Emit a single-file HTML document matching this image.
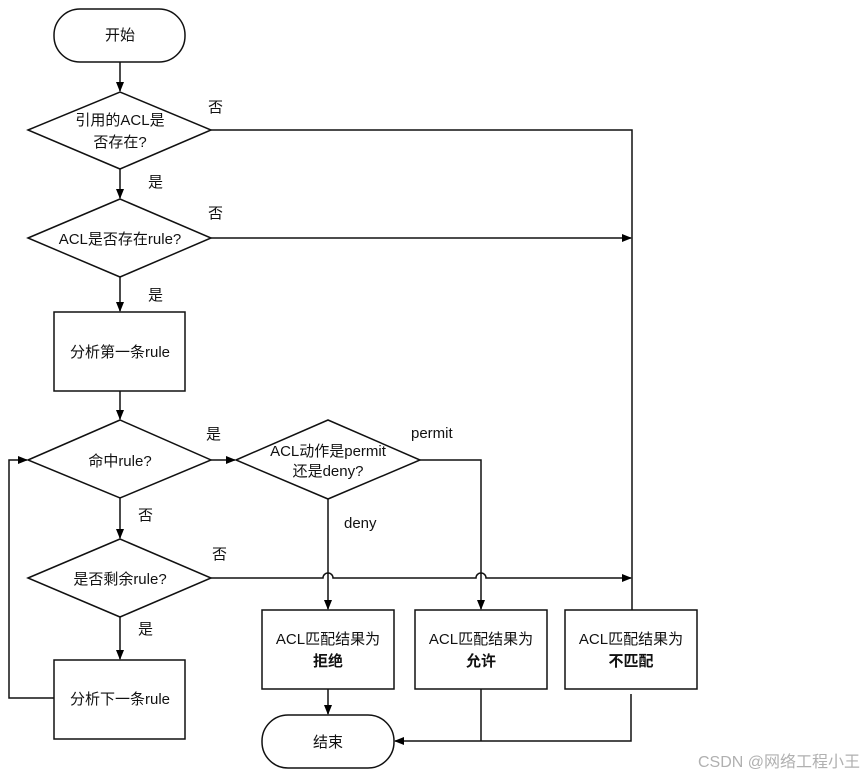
<!DOCTYPE html>
<html><head><meta charset="utf-8"><style>
html,body{margin:0;padding:0;background:#fff;width:866px;height:774px;overflow:hidden}
svg text{font-family:"Liberation Sans","Noto Sans CJK SC",sans-serif;font-size:15px;fill:#111}
</style></head><body>
<svg width="866" height="774" viewBox="0 0 866 774" xmlns="http://www.w3.org/2000/svg">
<defs><marker id="a" markerWidth="10" markerHeight="10" refX="9" refY="5" orient="auto" markerUnits="userSpaceOnUse"><path d="M0,1 L10,5 L0,9 z" fill="#000"/></marker></defs>
<g fill="#fff" stroke="#111" stroke-width="1.5">
<rect x="54" y="9" width="131" height="53" rx="26"/>
<polygon points="28,130 120,92 211,130 120,169"/>
<polygon points="28,238 120,199 211,238 120,277"/>
<rect x="54" y="312" width="131" height="79"/>
<polygon points="28,460 120,420 211,460 120,498"/>
<polygon points="236,460 328,420 420,460 328,499"/>
<polygon points="28,578 120,539 211,578 120,617"/>
<rect x="54" y="660" width="131" height="79"/>
<rect x="262" y="610" width="132" height="79"/>
<rect x="415" y="610" width="132" height="79"/>
<rect x="565" y="610" width="132" height="79"/>
<rect x="262" y="715" width="132" height="53" rx="26"/>
</g>
<g fill="none" stroke="#111" stroke-width="1.5">
<line x1="120" y1="62" x2="120" y2="91" marker-end="url(#a)"/>
<line x1="120" y1="169" x2="120" y2="198" marker-end="url(#a)"/>
<line x1="120" y1="277" x2="120" y2="311" marker-end="url(#a)"/>
<line x1="120" y1="391" x2="120" y2="419" marker-end="url(#a)"/>
<line x1="120" y1="498" x2="120" y2="538" marker-end="url(#a)"/>
<line x1="120" y1="617" x2="120" y2="659" marker-end="url(#a)"/>
<polyline points="54,698 9,698 9,460 27,460" marker-end="url(#a)"/>
<line x1="211" y1="460" x2="235" y2="460" marker-end="url(#a)"/>
<polyline points="211,130 632,130 632,610"/>
<line x1="211" y1="238" x2="631" y2="238" marker-end="url(#a)"/>
<path d="M211,578 H323 a5,5 0 0 1 10,0 H476 a5,5 0 0 1 10,0 H631" marker-end="url(#a)"/>
<line x1="328" y1="499" x2="328" y2="609" marker-end="url(#a)"/>
<polyline points="420,460 481,460 481,609" marker-end="url(#a)"/>
<line x1="328" y1="689" x2="328" y2="714" marker-end="url(#a)"/>
<polyline points="481,689 481,741"/>
<polyline points="631,694 631,741 395,741" marker-end="url(#a)"/>
</g>
<g text-anchor="middle">
<text x="120" y="40">开始</text>
<text x="120" y="125">引用的ACL是</text>
<text x="120" y="147">否存在?</text>
<text x="120" y="244">ACL是否存在rule?</text>
<text x="120" y="357">分析第一条rule</text>
<text x="120" y="466">命中rule?</text>
<text x="328" y="456">ACL动作是permit</text>
<text x="328" y="476">还是deny?</text>
<text x="120" y="584">是否剩余rule?</text>
<text x="120" y="704">分析下一条rule</text>
<text x="328" y="644">ACL匹配结果为</text>
<text x="328" y="666" font-weight="bold">拒绝</text>
<text x="481" y="644">ACL匹配结果为</text>
<text x="481" y="666" font-weight="bold">允许</text>
<text x="631" y="644">ACL匹配结果为</text>
<text x="631" y="666" font-weight="bold">不匹配</text>
<text x="328" y="747">结束</text>
</g>
<text x="208" y="112">否</text>
<text x="148" y="187">是</text>
<text x="208" y="218">否</text>
<text x="148" y="300">是</text>
<text x="206" y="439">是</text>
<text x="411" y="438">permit</text>
<text x="344" y="528">deny</text>
<text x="138" y="520">否</text>
<text x="212" y="559">否</text>
<text x="138" y="634">是</text>
<text x="698" y="767" style="fill:#b0b0b0;font-size:16px">CSDN @网络工程小王</text>
</svg>
</body></html>
